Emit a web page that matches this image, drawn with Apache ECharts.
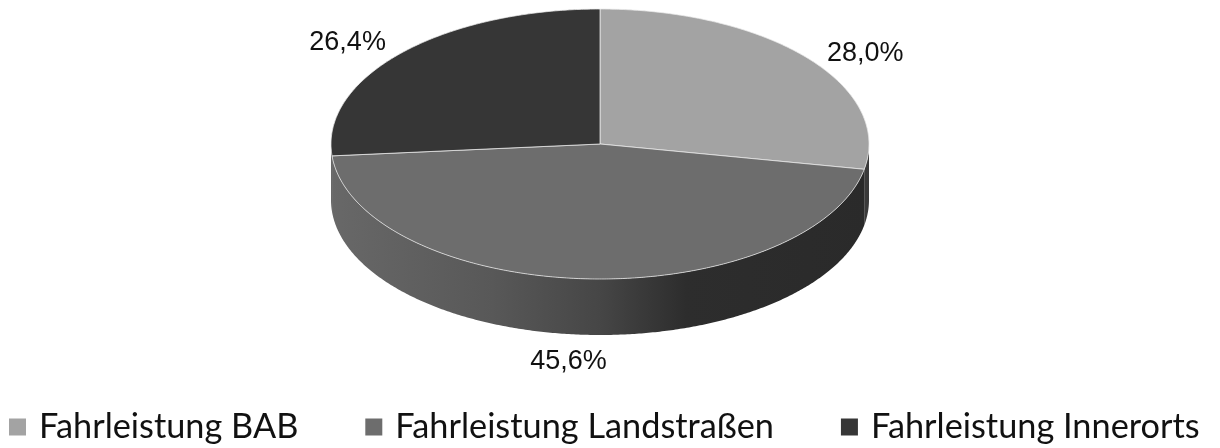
<!DOCTYPE html>
<html><head><meta charset="utf-8">
<style>html,body{margin:0;padding:0;background:#fff}#c{width:1220px;height:448px}</style>
<script src="https://cdn.jsdelivr.net/npm/echarts@6/dist/echarts.min.js"></script>
</head><body><div id="c"></div>
<script>
const categories = ['Fahrleistung BAB', 'Fahrleistung Landstraßen', 'Fahrleistung Innerorts'];
const values = [28.0, 45.6, 26.4];
const topColors = ['#a3a3a3', '#6d6d6d', '#363636'];
const labelOffsets = [[58, -4], [-18, 83], [-54, -10]];

const CX = 600, CY = 144, RX = 269, RY = 135, DEPTH = 56;
const total = values.reduce((a, b) => a + b, 0);
const starts = values.map((_, i) => values.slice(0, i).reduce((a, b) => a + b, 0) / total * 360);
const pt = (deg, dy) => {
  const t = deg * Math.PI / 180;
  return [CX + RX * Math.sin(t), CY - RY * Math.cos(t) + (dy || 0)];
};
const arc = (a, b, dy) => {
  const out = [], n = Math.max(1, Math.ceil(Math.abs(b - a) / 0.5));
  for (let i = 0; i <= n; i++) out.push(pt(a + (b - a) * i / n, dy));
  return out;
};
const wallFill = new echarts.graphic.LinearGradient(CX - RX, 0, CX + RX, 0, [
  { offset: 0, color: '#686868' },
  { offset: 0.3, color: '#585858' },
  { offset: 0.5, color: '#464646' },
  { offset: 0.66, color: '#2d2d2d' },
  { offset: 1, color: '#2a2a2a' }
], true);

function renderSlice(idx) {
  return function (params, api) {
    const v = api.value(0);
    const a = starts[idx], b = a + v / total * 360;
    const children = [];
    const va = Math.max(a, 90), vb = Math.min(b, 270);
    if (vb > va) {
      children.push({
        type: 'polygon',
        shape: { points: arc(va, vb, 0).concat(arc(vb, va, DEPTH)) },
        style: { fill: idx === 1 ? wallFill : (idx === 0 ? '#3a3a3a' : '#686868') }
      });
    }
    children.push({
      type: 'polygon',
      shape: { points: [[CX, CY]].concat(arc(a, b, 0)) },
      style: { fill: topColors[idx], stroke: 'rgba(235,235,235,0.75)', lineWidth: 1, lineJoin: 'round' },
      z2: 5
    });
    const mid = pt((a + b) / 2, 0);
    const off = labelOffsets[idx];
    children.push({
      type: 'text',
      z2: 10,
      style: {
        x: mid[0] + off[0], y: mid[1] + off[1],
        text: v.toFixed(1).replace('.', ',') + '%',
        fill: '#111',
        fontFamily: '"Liberation Sans", Arial, sans-serif',
        fontSize: 27,
        align: 'center', verticalAlign: 'middle'
      }
    });
    return { type: 'group', children };
  };
}

const chart = echarts.init(document.getElementById('c'), null, { renderer: 'canvas' });
chart.setOption({
  animation: false,
  backgroundColor: '#fff',
  legend: {
    left: 9, top: 410, padding: 0,
    icon: 'rect',
    itemWidth: 17, itemHeight: 17, itemGap: 67,
    data: categories,
    selectedMode: false,
    textStyle: {
      color: '#111',
      fontFamily: 'Lato, "Noto Sans", sans-serif',
      fontSize: 34.3,
      padding: [0, 0, 0, 8]
    }
  },
  series: categories.map((name, i) => ({
    type: 'custom',
    name,
    coordinateSystem: 'none',
    itemStyle: { color: topColors[i] },
    renderItem: renderSlice(i),
    data: [[values[i]]],
    silent: true
  }))
});
</script></body></html>
